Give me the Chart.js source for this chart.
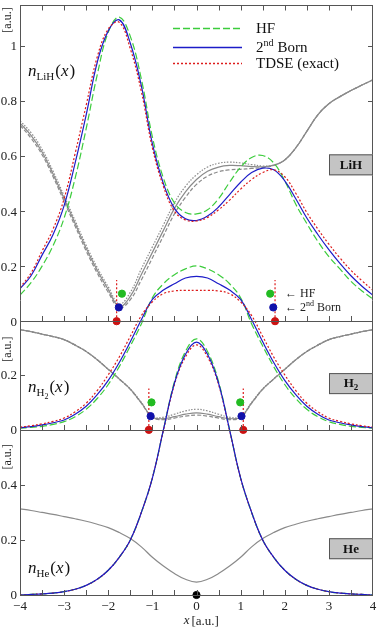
<!DOCTYPE html>
<html>
<head>
<meta charset="utf-8">
<script src="https://cdn.jsdelivr.net/npm/chart.js@4.4.1/dist/chart.umd.min.js"></script>
<style>
  html, body { margin: 0; padding: 0; background: #fff; }
  #wrap { width: 378px; height: 627px; position: relative; }
</style>
</head>
<body>
<div id="wrap"><canvas id="densities"></canvas></div>
<script>
// grid shared by every curve, x in a.u.
const xs = [-4, -3.75, -3.5, -3.25, -3, -2.75, -2.5, -2.25, -2, -1.75, -1.5, -1.25, -1, -0.75, -0.5, -0.25,
  0, 0.25, 0.5, 0.75, 1, 1.25, 1.5, 1.75, 2, 2.25, 2.5, 2.75, 3, 3.25, 3.5, 3.75, 4];

// LiH panel
const lihHF = [0.095, 0.14, 0.20, 0.275, 0.375, 0.52, 0.70, 0.895, 1.05, 1.105, 1.035, 0.88, 0.67, 0.52, 0.43, 0.395,
  0.39, 0.405, 0.445, 0.505, 0.56, 0.595, 0.602, 0.575, 0.51, 0.425, 0.355, 0.29, 0.235, 0.19, 0.145, 0.11, 0.08];
const lihBorn = [0.118, 0.165, 0.24, 0.315, 0.42, 0.575, 0.75, 0.94, 1.055, 1.095, 1.01, 0.855, 0.645, 0.50, 0.41, 0.372,
  0.366, 0.382, 0.415, 0.46, 0.505, 0.54, 0.556, 0.55, 0.51, 0.445, 0.375, 0.315, 0.26, 0.21, 0.165, 0.127, 0.094];
const lihTDSE = [0.122, 0.175, 0.255, 0.335, 0.445, 0.61, 0.785, 0.96, 1.062, 1.086, 0.99, 0.835, 0.63, 0.49, 0.40, 0.368,
  0.364, 0.377, 0.405, 0.44, 0.48, 0.515, 0.54, 0.55, 0.525, 0.465, 0.395, 0.335, 0.28, 0.23, 0.185, 0.147, 0.112];
const lihGreySolid = [0.72, 0.675, 0.615, 0.535, 0.445, 0.355, 0.265, 0.185, 0.115, 0.053, 0.09, 0.17, 0.25, 0.33, 0.41, 0.47,
  0.515, 0.545, 0.56, 0.566, 0.565, 0.562, 0.561, 0.567, 0.586, 0.63, 0.69, 0.75, 0.79, 0.816, 0.838, 0.858, 0.877];
const lihGreyDot = [0.728, 0.685, 0.625, 0.545, 0.455, 0.365, 0.275, 0.195, 0.125, 0.062, 0.105, 0.19, 0.27, 0.35, 0.43, 0.49,
  0.532, 0.56, 0.574, 0.578, 0.575, 0.569, 0.564, 0.567, 0.586, 0.63, 0.69, 0.75, 0.79, 0.816, 0.838, 0.858, 0.877];
const lihGreyDash = [0.712, 0.665, 0.605, 0.525, 0.435, 0.345, 0.255, 0.175, 0.105, 0.048, 0.078, 0.15, 0.23, 0.31, 0.39, 0.45,
  0.497, 0.527, 0.543, 0.55, 0.552, 0.555, 0.558, 0.566, 0.586, 0.63, 0.69, 0.75, 0.79, 0.816, 0.838, 0.858, 0.877];

// H2 panel
const h2HF = [0.006, 0.009, 0.013, 0.02, 0.03, 0.048, 0.075, 0.114, 0.165, 0.23, 0.305, 0.385, 0.48, 0.531, 0.564, 0.585,
  0.596, 0.585, 0.564, 0.531, 0.48, 0.385, 0.305, 0.23, 0.165, 0.114, 0.075, 0.048, 0.03, 0.02, 0.013, 0.009, 0.006];
const h2Born = [0.008, 0.012, 0.018, 0.026, 0.036, 0.057, 0.086, 0.128, 0.18, 0.245, 0.32, 0.40, 0.474, 0.508, 0.531, 0.552,
  0.558, 0.552, 0.531, 0.508, 0.474, 0.40, 0.32, 0.245, 0.18, 0.128, 0.086, 0.057, 0.036, 0.026, 0.018, 0.012, 0.008];
const h2TDSE = [0.01, 0.015, 0.022, 0.031, 0.043, 0.066, 0.097, 0.143, 0.20, 0.265, 0.34, 0.415, 0.465, 0.495, 0.505, 0.507,
  0.507, 0.507, 0.505, 0.495, 0.465, 0.415, 0.34, 0.265, 0.20, 0.143, 0.097, 0.066, 0.043, 0.031, 0.022, 0.015, 0.01];
const h2GreySolid = [0.364, 0.357, 0.348, 0.339, 0.328, 0.308, 0.285, 0.255, 0.22, 0.185, 0.148, 0.098, 0.046, 0.041, 0.048, 0.057,
  0.062, 0.057, 0.048, 0.041, 0.046, 0.098, 0.148, 0.185, 0.22, 0.255, 0.285, 0.308, 0.328, 0.339, 0.348, 0.357, 0.364];
const h2GreyDot = [0.364, 0.357, 0.348, 0.339, 0.328, 0.308, 0.285, 0.255, 0.22, 0.185, 0.149, 0.1, 0.048, 0.046, 0.057, 0.069,
  0.075, 0.069, 0.057, 0.046, 0.048, 0.1, 0.149, 0.185, 0.22, 0.255, 0.285, 0.308, 0.328, 0.339, 0.348, 0.357, 0.364];
const h2GreyDash = [0.364, 0.357, 0.348, 0.339, 0.328, 0.308, 0.285, 0.255, 0.22, 0.185, 0.147, 0.097, 0.045, 0.037, 0.043, 0.05,
  0.054, 0.05, 0.043, 0.037, 0.045, 0.097, 0.147, 0.185, 0.22, 0.255, 0.285, 0.308, 0.328, 0.339, 0.348, 0.357, 0.364];

// He panel
const heHF = [0, 0.002, 0.004, 0.007, 0.012, 0.021, 0.035, 0.057, 0.09, 0.137, 0.2, 0.3, 0.425, 0.6, 0.775, 0.885,
  0.931, 0.885, 0.775, 0.6, 0.425, 0.3, 0.2, 0.137, 0.09, 0.057, 0.035, 0.021, 0.012, 0.007, 0.004, 0.002, 0];
const heBorn = [0, 0.002, 0.004, 0.007, 0.012, 0.021, 0.035, 0.057, 0.09, 0.137, 0.2, 0.3, 0.425, 0.6, 0.77, 0.875,
  0.919, 0.875, 0.77, 0.6, 0.425, 0.3, 0.2, 0.137, 0.09, 0.057, 0.035, 0.021, 0.012, 0.007, 0.004, 0.002, 0];
const heTDSE = [0, 0.002, 0.004, 0.007, 0.012, 0.021, 0.035, 0.057, 0.09, 0.137, 0.2, 0.3, 0.425, 0.598, 0.765, 0.865,
  0.909, 0.865, 0.765, 0.598, 0.425, 0.3, 0.2, 0.137, 0.09, 0.057, 0.035, 0.021, 0.012, 0.007, 0.004, 0.002, 0];
const heGrey = [0.313, 0.307, 0.30, 0.293, 0.285, 0.277, 0.268, 0.257, 0.245, 0.227, 0.205, 0.175, 0.137, 0.105, 0.078, 0.057,
  0.047, 0.057, 0.078, 0.105, 0.137, 0.175, 0.205, 0.227, 0.245, 0.257, 0.268, 0.277, 0.285, 0.293, 0.30, 0.307, 0.313];

// nucleus positions (red) and the HF / 2nd Born markers
const lihNucX = [-1.81, 1.78];
const lihBornX = [-1.76, 1.74];
const lihHFX = [-1.69, 1.67];
const h2NucX = [-1.08, 1.06];
const h2BornX = [-1.04, 1.02];
const h2HFX = [-1.02, 0.99];
const heNucX = [0];
const bornMarkY = 0.05;
const hfMarkY = 0.1;
const nucLineTop = 0.15;

// tick labels
const xTicks = [-4, -3, -2, -1, 0, 1, 2, 3, 4];
const lihYTicks = [0, 0.2, 0.4, 0.6, 0.8, 1];
const h2YTicks = [0, 0.2];
const heYTicks = [0, 0.2, 0.4];

// the three panels stacked on one y axis
const heBase = 0;
const h2Base = 0.6;
const lihBase = 0.995;
const yTop = 2.144;

const GREEN = '#3ccc3c';
const BLUE = '#1c1cc8';
const RED = '#dd1c1c';
const GREY = '#8a8a8a';
const SERIF = '"Liberation Serif", "DejaVu Serif", serif';

function points(values, base) {
  return xs.map((x, i) => ({ x: x, y: values[i] + base }));
}
function curve(values, base, color, dash, order) {
  return {
    data: points(values, base), borderColor: color, borderWidth: 1.2, borderDash: dash,
    pointRadius: 0, tension: 0.4, fill: false, order: order
  };
}
function marks(xList, y, color) {
  return {
    data: xList.map(x => ({ x: x, y: y })), showLine: false, pointRadius: 3.6,
    pointBackgroundColor: color, pointBorderColor: color, order: 0, clip: false
  };
}
function nucLines(xList, base) {
  return xList.map(x => ({
    data: [{ x: x, y: base }, { x: x, y: base + nucLineTop }], borderColor: RED, borderWidth: 1.2,
    borderDash: [2, 2], pointRadius: 0, tension: 0, order: 1
  }));
}

const datasets = [
  marks(lihNucX, lihBase, '#cc1111'), marks(lihBornX, lihBase + bornMarkY, '#1111aa'), marks(lihHFX, lihBase + hfMarkY, '#22bb22'),
  marks(h2NucX, h2Base, '#cc1111'), marks(h2BornX, h2Base + bornMarkY, '#1111aa'), marks(h2HFX, h2Base + hfMarkY, '#22bb22'),
  marks(heNucX, heBase, '#000'),
  ...nucLines(lihNucX, lihBase), ...nucLines(h2NucX, h2Base),
  curve(lihTDSE, lihBase, RED, [2, 2], 1), curve(lihBorn, lihBase, BLUE, [], 2), curve(lihHF, lihBase, GREEN, [7, 3], 3),
  curve(h2TDSE, h2Base, RED, [2, 2], 1), curve(h2Born, h2Base, BLUE, [], 2), curve(h2HF, h2Base, GREEN, [7, 3], 3),
  curve(heBorn, heBase, BLUE, [], 1), curve(heTDSE, heBase, RED, [2, 2], 2), curve(heHF, heBase, GREEN, [7, 3], 3),
  curve(lihGreySolid, lihBase, GREY, [], 4), curve(lihGreyDot, lihBase, GREY, [1.5, 1.5], 4), curve(lihGreyDash, lihBase, GREY, [4, 2], 4),
  curve(h2GreySolid, h2Base, GREY, [], 4), curve(h2GreyDot, h2Base, GREY, [1.5, 1.5], 4), curve(h2GreyDash, h2Base, GREY, [4, 2], 4),
  curve(heGrey, heBase, GREY, [], 4)
];

// n_sys(x) label with subscript
function densityLabel(ctx, x, y, sub, sub2) {
  ctx.textAlign = 'left';
  ctx.textBaseline = 'alphabetic';
  ctx.font = 'italic 17px ' + SERIF;
  ctx.fillText('n', x, y);
  x += ctx.measureText('n').width;
  ctx.font = '11px ' + SERIF;
  ctx.fillText(sub, x, y + 4);
  x += ctx.measureText(sub).width;
  if (sub2) {
    ctx.font = '8px ' + SERIF;
    ctx.fillText(sub2, x, y + 7);
    x += ctx.measureText(sub2).width;
  }
  x += 1;
  ctx.font = '17px ' + SERIF;
  ctx.fillText('(', x, y);
  x += ctx.measureText('(').width;
  ctx.font = 'italic 17px ' + SERIF;
  ctx.fillText('x', x, y);
  x += ctx.measureText('x').width + 1;
  ctx.font = '17px ' + SERIF;
  ctx.fillText(')', x, y);
}

function panelBox(ctx, left, right, yc, text, sub) {
  ctx.fillStyle = '#c4c4c4';
  ctx.fillRect(left, yc - 10, right - left, 21);
  ctx.strokeStyle = '#555';
  ctx.lineWidth = 1;
  ctx.strokeRect(left + 0.5, yc - 9.5, right - left - 1, 20);
  ctx.fillStyle = '#111';
  ctx.font = 'bold 13px ' + SERIF;
  ctx.textBaseline = 'middle';
  let w = ctx.measureText(text).width;
  let subW = 0;
  if (sub) { ctx.font = 'bold 9px ' + SERIF; subW = ctx.measureText(sub).width; }
  let x0 = (left + right) / 2 - (w + subW) / 2;
  ctx.font = 'bold 13px ' + SERIF;
  ctx.textAlign = 'left';
  ctx.fillText(text, x0, yc + 1);
  if (sub) {
    ctx.font = 'bold 9px ' + SERIF;
    ctx.fillText(sub, x0 + w, yc + 5);
  }
}

const framePlugin = {
  id: 'frame',
  afterDraw(chart) {
    const ctx = chart.ctx;
    const sx = chart.scales.x;
    const sy = chart.scales.y;
    const L = sx.getPixelForValue(-4);
    const R = sx.getPixelForValue(4);
    ctx.save();
    ctx.strokeStyle = '#555';
    ctx.lineWidth = 1;
    ctx.setLineDash([]);

    // outer frame and panel separators
    const top = Math.round(sy.getPixelForValue(yTop)) + 0.5;
    const bottom = Math.round(sy.getPixelForValue(0)) + 0.5;
    ctx.beginPath();
    ctx.moveTo(Math.round(L) + 0.5, top); ctx.lineTo(Math.round(L) + 0.5, bottom);
    ctx.moveTo(Math.round(R) - 0.5, top); ctx.lineTo(Math.round(R) - 0.5, bottom);
    [yTop, lihBase, h2Base, heBase].forEach(v => {
      const py = Math.round(sy.getPixelForValue(v)) + 0.5;
      ctx.moveTo(L, py); ctx.lineTo(R, py);
    });
    ctx.stroke();

    // x ticks every 0.5, pointing into each panel
    ctx.beginPath();
    for (let v = -3.5; v <= 3.5; v += 0.5) {
      const px = Math.round(sx.getPixelForValue(v)) + 0.5;
      [lihBase, h2Base, heBase].forEach(b => {
        const py = Math.round(sy.getPixelForValue(b));
        ctx.moveTo(px, py); ctx.lineTo(px, py - 5);
      });
      ctx.moveTo(px, top); ctx.lineTo(px, top + 5);
    }
    // y ticks on both sides
    const ySets = [[lihYTicks, lihBase], [h2YTicks, h2Base], [heYTicks, heBase]];
    ySets.forEach(([ticks, b]) => {
      ticks.forEach(t => {
        if (t === 0) return;
        const py = Math.round(sy.getPixelForValue(b + t)) + 0.5;
        ctx.moveTo(L, py); ctx.lineTo(L + 5, py);
        ctx.moveTo(R, py); ctx.lineTo(R - 5, py);
      });
    });
    ctx.stroke();

    // tick labels
    ctx.fillStyle = '#222';
    ctx.font = '13px ' + SERIF;
    ctx.textAlign = 'right';
    ctx.textBaseline = 'middle';
    ySets.forEach(([ticks, b]) => {
      ticks.forEach(t => {
        ctx.fillText(String(t), L - 3, sy.getPixelForValue(b + t) + 1);
      });
    });
    ctx.textAlign = 'center';
    xTicks.forEach(t => {
      const s = t < 0 ? '\u2212' + Math.abs(t) : String(t);
      ctx.fillText(s, sx.getPixelForValue(t), bottom + 11);
    });
    // x axis title
    ctx.font = 'italic 13px ' + SERIF;
    ctx.textAlign = 'right';
    ctx.fillText('x', sx.getPixelForValue(0) - 7, bottom + 25);
    ctx.font = '13px ' + SERIF;
    ctx.textAlign = 'left';
    ctx.fillText('[a.u.]', sx.getPixelForValue(0) - 5, bottom + 26);

    // rotated unit labels
    ctx.font = '12px ' + SERIF;
    ctx.textAlign = 'center';
    [[yTop, 15], [lihBase, 28], [h2Base, 27]].forEach(([v, off]) => {
      ctx.save();
      ctx.translate(8, sy.getPixelForValue(v) + off);
      ctx.rotate(-Math.PI / 2);
      ctx.fillText('[a.u.]', 0, 0);
      ctx.restore();
    });

    // density labels
    ctx.fillStyle = '#111';
    densityLabel(ctx, 28, 76, 'LiH');
    densityLabel(ctx, 28, 392, 'H', '2');
    densityLabel(ctx, 28, 573, 'He');

    // legend
    const legend = [['HF', GREEN, [7, 3], 28], ['Born', BLUE, [], 47], ['TDSE (exact)', RED, [2, 2], 63]];
    legend.forEach(([txt, col, dash, y]) => {
      ctx.strokeStyle = col;
      ctx.lineWidth = 1.3;
      ctx.setLineDash(dash);
      ctx.beginPath();
      ctx.moveTo(173, y + 0.5); ctx.lineTo(242, y + 0.5);
      ctx.stroke();
      ctx.setLineDash([]);
      ctx.fillStyle = '#111';
      ctx.textAlign = 'left';
      ctx.textBaseline = 'middle';
      if (txt === 'Born') {
        ctx.font = '15px ' + SERIF;
        ctx.fillText('2', 256, y + 1);
        let w = ctx.measureText('2').width;
        ctx.font = '10px ' + SERIF;
        ctx.fillText('nd', 256 + w, y - 4);
        w += ctx.measureText('nd').width + 4;
        ctx.font = '15px ' + SERIF;
        ctx.fillText('Born', 256 + w, y + 1);
      } else {
        ctx.font = '15px ' + SERIF;
        ctx.fillText(txt, 256, y + 1);
      }
    });

    // arrow notes next to the right-hand markers
    ctx.font = '12px ' + SERIF;
    ctx.fillStyle = '#222';
    const hfY = sy.getPixelForValue(lihBase + hfMarkY);
    const bornY = sy.getPixelForValue(lihBase + bornMarkY);
    ctx.fillText('\u2190 HF', 285, hfY);
    ctx.fillText('\u2190 2', 285, bornY);
    let w2 = ctx.measureText('\u2190 2').width;
    ctx.font = '8px ' + SERIF;
    ctx.fillText('nd', 285 + w2, bornY - 4);
    let w3 = ctx.measureText('nd').width;
    ctx.font = '12px ' + SERIF;
    ctx.fillText('Born', 285 + w2 + w3 + 3, bornY);

    // system boxes
    panelBox(ctx, 329, R, sy.getPixelForValue(lihBase + 0.57), 'LiH');
    panelBox(ctx, 329, R, sy.getPixelForValue(h2Base + 0.17), 'H', '2');
    panelBox(ctx, 329, R, sy.getPixelForValue(heBase + 0.17), 'He');
    ctx.restore();
  }
};

new Chart(document.getElementById('densities'), {
  type: 'line',
  data: { datasets: datasets },
  options: {
    responsive: true,
    maintainAspectRatio: false,
    animation: false,
    layout: { padding: { left: 20, right: 4, top: 0, bottom: 32 } },
    plugins: { legend: { display: false }, tooltip: { enabled: false } },
    scales: {
      x: { type: 'linear', min: -4, max: 4, display: false },
      y: { type: 'linear', min: 0, max: yTop, display: false }
    }
  },
  plugins: [framePlugin]
});
</script>
</body>
</html>
